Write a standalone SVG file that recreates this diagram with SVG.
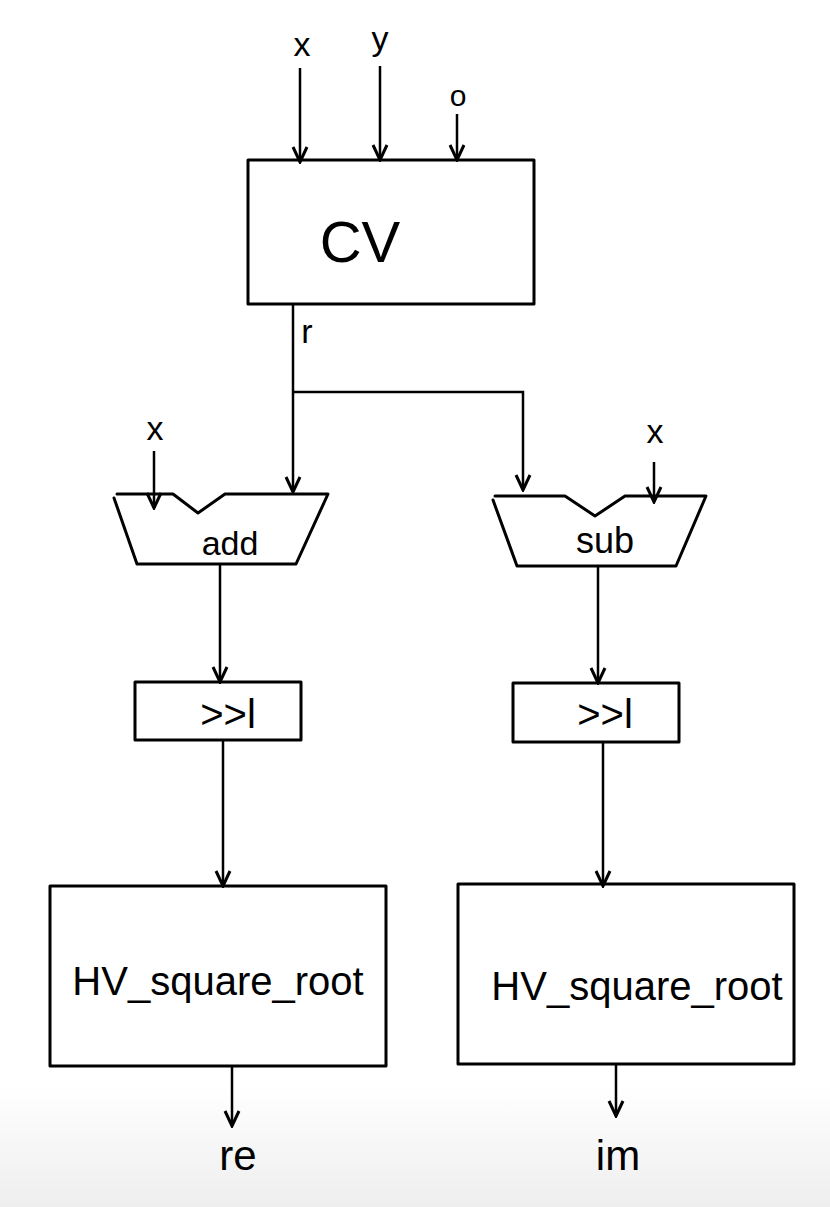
<svg xmlns="http://www.w3.org/2000/svg" width="830" height="1207" viewBox="0 0 830 1207">
<defs>
<marker id="a" viewBox="0 0 20 20" refX="18" refY="10" markerWidth="20" markerHeight="20" markerUnits="userSpaceOnUse" orient="auto">
<path d="M3 3 L18 10 L3 17" fill="none" stroke="#000" stroke-width="3"/>
</marker>
<linearGradient id="bg" x1="0" y1="0" x2="0" y2="1"><stop offset="0.9" stop-color="#fff"/><stop offset="1" stop-color="#eee"/></linearGradient>
</defs>
<style>
.s{fill:none;stroke:#000;stroke-width:3;stroke-linecap:round;stroke-linejoin:round}
.c{fill:none;stroke:#000;stroke-width:2.5}
.t{font-family:"Liberation Sans",sans-serif;fill:#000;text-anchor:middle}
</style>
<rect width="830" height="1207" fill="url(#bg)"/>
<g id="CV"><rect class="s" x="248" y="160" width="286" height="144"/><text class="t" x="360" y="262" font-size="58">CV</text></g>
<g id="add"><path class="s" d="M117 494 H173 L198 513 L225 494 H328 L296 564 H137 L114 498"/><text class="t" x="230" y="555" font-size="34">add</text></g>
<g id="sub"><path class="s" d="M495 496 H565 L595 516 L625 496 H706 L676 566 H517 L493 500"/><text class="t" x="605" y="553" font-size="36">sub</text></g>
<g id="shr1"><rect class="s" x="135" y="682" width="166" height="58"/><text class="t" x="228" y="728" font-size="40">&gt;&gt;l</text></g>
<g id="shr2"><rect class="s" x="513" y="683" width="166" height="59"/><text class="t" x="605" y="728" font-size="40">&gt;&gt;l</text></g>
<g id="sq1"><rect class="s" x="50" y="886" width="336" height="180"/><text class="t" x="218" y="995" font-size="40">HV_square_root</text></g>
<g id="sq2"><rect class="s" x="458" y="884" width="336" height="180"/><text class="t" x="637" y="1000" font-size="40">HV_square_root</text></g>
<g id="labels">
<text class="t" x="302" y="56" font-size="34">x</text>
<text class="t" x="380" y="50" font-size="34">y</text>
<text class="t" x="458" y="106" font-size="30">o</text>
<text class="t" x="307" y="343" font-size="34">r</text>
<text class="t" x="155" y="440" font-size="34">x</text>
<text class="t" x="655" y="443" font-size="34">x</text>
<text class="t" x="238" y="1170" font-size="42">re</text>
<text class="t" x="618" y="1170" font-size="42">im</text>
</g>
<g id="connectors">
<path class="c" d="M300 68 V162" marker-end="url(#a)"/>
<path class="c" d="M380 66 V160" marker-end="url(#a)"/>
<path class="c" d="M457 114 V160" marker-end="url(#a)"/>
<path class="c" d="M293 304 V492" marker-end="url(#a)"/>
<path class="c" d="M293 392 H523 V490" marker-end="url(#a)"/>
<path class="c" d="M154 451 V508" marker-end="url(#a)"/>
<path class="c" d="M654 462 V502" marker-end="url(#a)"/>
<path class="c" d="M220 564 V682" marker-end="url(#a)"/>
<path class="c" d="M598 566 V683" marker-end="url(#a)"/>
<path class="c" d="M223 740 V886" marker-end="url(#a)"/>
<path class="c" d="M603 742 V886" marker-end="url(#a)"/>
<path class="c" d="M232 1066 V1126" marker-end="url(#a)"/>
<path class="c" d="M616 1064 V1116" marker-end="url(#a)"/>
</g>
</svg>
